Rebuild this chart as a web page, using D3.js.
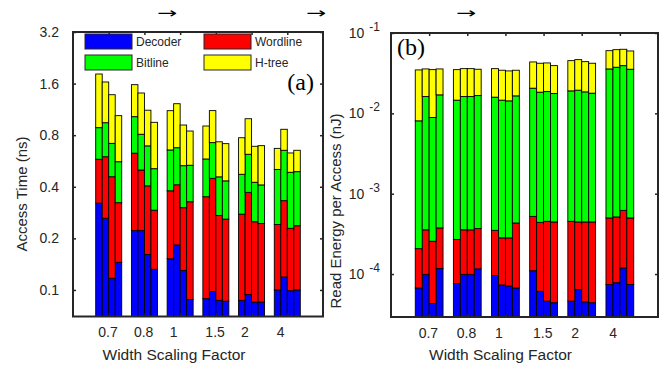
<!DOCTYPE html>
<html>
<head>
<meta charset="utf-8">
<script src="https://cdn.jsdelivr.net/npm/d3@7"></script>
<style>
body { margin: 0; background: #fff; }
text { font-family: "Liberation Sans", Arial, sans-serif; fill: #262626; }
text.serif { font-family: "Liberation Serif", "Times New Roman", serif; }
text.arrow { font-family: "Noto Sans", "DejaVu Sans", sans-serif; }
</style>
</head>
<body>
<div id="chart"></div>
<script>
var factors = ["0.7", "0.8", "1", "1.5", "2", "4"];
var parts = ["decoder", "wordline", "bitline", "htree"];
var partNames = ["Decoder", "Wordline", "Bitline", "H-tree"];
var partColors = ["#0000ff", "#ff0000", "#00ff00", "#ffff00"];

// access time (ns), four bars per scaling factor
var timeDecoder  = [0.321, 0.262, 0.117, 0.145,  0.222, 0.222, 0.161, 0.132,  0.152, 0.183, 0.130, 0.088,
                    0.089, 0.098, 0.087, 0.086,  0.087, 0.094, 0.085, 0.085,  0.100, 0.119, 0.099, 0.100];
var timeWordline = [0.258, 0.337, 0.341, 0.178,  0.406, 0.279, 0.244, 0.160,  0.227, 0.228, 0.172, 0.239,
                    0.261, 0.350, 0.185, 0.173,  0.190, 0.277, 0.165, 0.159,  0.141, 0.213, 0.130, 0.137];
var timeBitline  = [0.306, 0.347, 0.259, 0.237,  0.398, 0.309, 0.288, 0.218,  0.277, 0.265, 0.229, 0.207,
                    0.231, 0.276, 0.185, 0.174,  0.196, 0.248, 0.175, 0.166,  0.264, 0.321, 0.257, 0.253];
var timeHtree    = [0.935, 0.689, 0.661, 0.480,  0.551, 0.600, 0.426, 0.441,  0.456, 0.545, 0.386, 0.312,
                    0.324, 0.389, 0.275, 0.281,  0.300, 0.379, 0.264, 0.285,  0.165, 0.213, 0.144, 0.163];

// read energy per access (nJ)
var energyDecoder  = [6.7e-5, 9.9e-5, 4.3e-5, 1.17e-4,  7.6e-5, 9.9e-5, 9.9e-5, 1.16e-4,  9.6e-5, 7.3e-5, 7.1e-5, 6.7e-5,
                      1.1e-4, 6.1e-5, 4.6e-5, 4.4e-5,   4.6e-5, 6.4e-5, 4.5e-5, 4.4e-5,   7.4e-5, 7.8e-5, 1.19e-4, 7.4e-5];
var energyWordline = [1.40e-4, 2.56e-4, 2.13e-4, 2.58e-4,  1.93e-4, 2.56e-4, 2.56e-4, 2.52e-4,  2.54e-4, 2.09e-4, 2.11e-4, 3.65e-4,
                      4.12e-4, 3.79e-4, 4.07e-4, 4.01e-4,  4.07e-4, 3.81e-4, 4.00e-4, 4.01e-4,  4.25e-4, 4.36e-4, 5.01e-4, 4.25e-4];
var energyBitline  = [7.86e-3, 1.582e-2, 8.61e-3, 1.661e-2,  1.432e-2, 1.582e-2, 1.582e-2, 1.627e-2,  1.554e-2, 1.431e-2, 1.402e-2, 1.607e-2,
                      2.004e-2, 1.790e-2, 1.821e-2, 1.718e-2,  1.859e-2, 1.898e-2, 1.806e-2, 1.738e-2,  3.521e-2, 3.698e-2, 3.863e-2, 3.490e-2];
var energyHtree    = [2.663e-2, 1.954e-2, 2.613e-2, 1.873e-2,  2.041e-2, 1.985e-2, 1.985e-2, 1.876e-2,  2.013e-2, 1.981e-2, 1.943e-2, 1.790e-2,
                      2.307e-2, 2.369e-2, 2.374e-2, 2.163e-2,  2.624e-2, 2.718e-2, 2.550e-2, 2.421e-2,  2.456e-2, 2.454e-2, 2.349e-2, 2.435e-2];

var timeTicks = [0.1, 0.2, 0.4, 0.8, 1.6, 3.2];
var energyTicks = [1e-4, 1e-3, 1e-2, 1e-1];

var barW = 0.182;

function makeRows(dec, wl, bl, ht) {
    return dec.map(function(d, i) {
        return { group: Math.floor(i / 4), bar: i % 4, decoder: d, wordline: wl[i], bitline: bl[i], htree: ht[i] };
    });
}

var svg = d3.select("#chart").append("svg")
    .attr("width", 667)
    .attr("height", 366);

StackedBars = function(_svg, _rows, _box, _y, _yMin, _ticks, _label) {
    var vis = this;
    vis.svg = _svg;
    vis.data = _rows;
    vis.box = _box;
    vis.y = _y;
    vis.yMin = _yMin;
    vis.ticks = _ticks;
    vis.label = _label;

    vis.x = d3.scaleLinear()
        .domain([0, 7])
        .range([vis.box.left, vis.box.right]);

    vis.g = vis.svg.append("g");
    vis.drawBars();
    vis.drawAxes();
};

StackedBars.prototype.drawBars = function() {
    var vis = this;

    vis.series = d3.stack().keys(parts)(vis.data);

    vis.g.selectAll(".layer")
        .data(vis.series)
        .enter()
        .append("g")
        .attr("class", "layer")
        .attr("fill", function(d, i) { return partColors[i]; })
        .selectAll("rect")
        .data(function(d) { return d; })
        .enter()
        .append("rect")
        .attr("x", function(d) { return vis.x(d.data.group + 1 + (d.data.bar - 1.5) * barW - barW / 2); })
        .attr("width", vis.x(barW) - vis.x(0))
        .attr("y", function(d) { return vis.y(d[1]); })
        .attr("height", function(d) { return vis.y(Math.max(d[0], vis.yMin)) - vis.y(d[1]); })
        .attr("stroke", "#000")
        .attr("stroke-width", 0.9);
};

StackedBars.prototype.drawAxes = function() {
    var vis = this;
    var b = vis.box;
    var groupTicks = d3.range(1, 7);

    function style(sel) {
        sel.select(".domain").remove();
        sel.attr("font-family", null).attr("font-size", 14).attr("color", "#262626");
        sel.selectAll(".tick line").attr("stroke-width", 1.5);
    }

    vis.g.append("g")
        .attr("transform", "translate(0," + b.bottom + ")")
        .call(d3.axisBottom(vis.x).tickValues(groupTicks)
            .tickFormat(function(d) { return factors[d - 1]; })
            .tickSize(-3).tickPadding(11))
        .call(style)
        .selectAll("text")
        .attr("text-anchor", "start")
        .attr("dx", -11);

    vis.g.append("g")
        .attr("transform", "translate(0," + b.top + ")")
        .call(d3.axisTop(vis.x).tickValues(groupTicks).tickFormat("").tickSize(-3))
        .call(style);

    vis.yAxisGroup = vis.g.append("g")
        .attr("transform", "translate(" + b.left + ",0)")
        .call(d3.axisLeft(vis.y).tickValues(vis.ticks).tickSize(-3).tickPadding(b.pad))
        .call(style);

    vis.g.append("g")
        .attr("transform", "translate(" + b.right + ",0)")
        .call(d3.axisRight(vis.y).tickValues(vis.ticks).tickFormat("").tickSize(-3))
        .call(style);

    vis.g.append("rect")
        .attr("x", b.left)
        .attr("y", b.top)
        .attr("width", b.right - b.left)
        .attr("height", b.bottom - b.top)
        .attr("fill", "none")
        .attr("stroke", "#262626")
        .attr("stroke-width", 2);

    vis.g.append("text")
        .attr("x", (b.left + b.right) / 2 - 24)
        .attr("y", 360)
        .attr("text-anchor", "middle")
        .attr("font-size", 15.5)
        .text("Width Scaling Factor");

    vis.g.append("text")
        .attr("transform", "translate(" + vis.label.x + "," + vis.label.y + ") rotate(-90)")
        .attr("text-anchor", "middle")
        .attr("font-size", 15)
        .text(vis.label.text);
};

// (a) access time
var timeY = d3.scaleLog().base(2)
    .domain([0.07, 3.2])
    .range([316.5, 32]);

var timeChart = new StackedBars(svg, makeRows(timeDecoder, timeWordline, timeBitline, timeHtree),
    { left: 73, right: 323, top: 32, bottom: 316.5, pad: 14 },
    timeY, 0.07, timeTicks, { x: 27, y: 194, text: "Access Time (ns)" });
timeChart.yAxisGroup.selectAll(".tick text").text(d3.format(".1f"));

// (b) read energy
var energyY = d3.scaleLog()
    .domain([2.92e-5, 0.1])
    .range([317, 33]);

var energyChart = new StackedBars(svg, makeRows(energyDecoder, energyWordline, energyBitline, energyHtree),
    { left: 391, right: 658, top: 33, bottom: 317, pad: 11 },
    energyY, 2.92e-5, energyTicks, { x: 341, y: 211, text: "Read Energy per Access (nJ)" });
energyChart.yAxisGroup.selectAll(".tick text").each(function(d) {
    var t = d3.select(this);
    t.text("10");
    t.append("tspan")
        .attr("dx", 5)
        .attr("dy", -7)
        .attr("font-size", 12)
        .text(Math.round(Math.log10(d)));
});

// legend
var legend = svg.append("g");
var legendItems = legend.selectAll(".item")
    .data(partNames)
    .enter()
    .append("g")
    .attr("transform", function(d, i) { return "translate(" + (i % 2 ? 204 : 85) + "," + (i < 2 ? 34 : 55) + ")"; });
legendItems.append("rect")
    .attr("width", 47)
    .attr("height", 15)
    .attr("fill", function(d, i) { return partColors[i]; })
    .attr("stroke", "#262626")
    .attr("stroke-width", 1);
legendItems.append("text")
    .attr("x", 51)
    .attr("y", 11.5)
    .attr("font-size", 12)
    .text(function(d) { return d; });

// panel tags and arrows
svg.append("text")
    .attr("class", "serif")
    .attr("x", 314).attr("y", 90)
    .attr("text-anchor", "end")
    .attr("font-size", 24)
    .style("fill", "#000")
    .text("(a)");
svg.append("text")
    .attr("class", "serif")
    .attr("x", 397).attr("y", 55)
    .attr("font-size", 24)
    .style("fill", "#000")
    .text("(b)");

svg.selectAll(".arrow")
    .data([167, 316, 466])
    .enter()
    .append("text")
    .attr("class", "arrow")
    .attr("transform", function(d) { return "translate(" + d + ",18) scale(1.6,1)"; })
    .attr("text-anchor", "middle")
    .attr("font-size", 15)
    .style("fill", "#000")
    .text("\u2192");
</script>
</body>
</html>
